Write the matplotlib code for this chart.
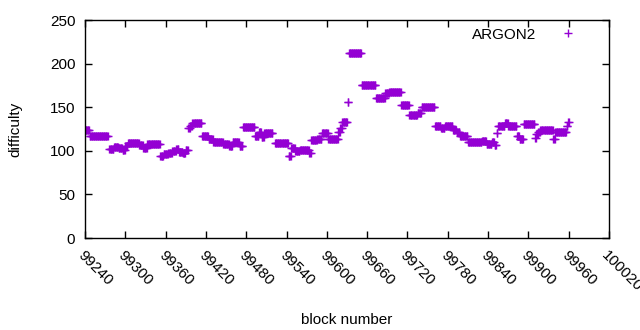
"""
Difficulty per block for the ARGON2 chain (gnuplot-style scatter)
"""

import numpy as np
import matplotlib
matplotlib.use("Agg")
import matplotlib.pyplot as plt

# runs of constant difficulty: [start, end) block and value
run_start = [99240, 99247, 99276, 99283, 99290, 99296, 99300, 99304, 99321, 99327,
             99333, 99352, 99357, 99364, 99370, 99376, 99380, 99386, 99390, 99394,
             99397, 99400, 99414, 99424, 99431, 99446, 99455, 99460, 99470, 99475,
             99493, 99499, 99503, 99507, 99523, 99543, 99547, 99553, 99560, 99574,
             99577, 99586, 99593, 99602, 99617, 99620, 99623, 99631, 99633, 99652,
             99673, 99687, 99693, 99711, 99723, 99735, 99741, 99761, 99770, 99776,
             99788, 99793, 99798, 99810, 99831, 99838, 99846, 99850, 99853, 99855,
             99865, 99870, 99883, 99887, 99893, 99910, 99912, 99915, 99918, 99937,
             99940, 99957, 99959]
run_end = [99247, 99275, 99283, 99290, 99296, 99300, 99304, 99321, 99327, 99333,
           99352, 99357, 99364, 99370, 99376, 99380, 99386, 99390, 99394, 99397,
           99400, 99414, 99424, 99431, 99446, 99455, 99460, 99470, 99475, 99493,
           99499, 99503, 99507, 99520, 99543, 99547, 99553, 99560, 99574, 99577,
           99586, 99593, 99602, 99617, 99620, 99623, 99631, 99633, 99652, 99673,
           99687, 99693, 99711, 99723, 99735, 99741, 99761, 99770, 99776, 99788,
           99793, 99798, 99810, 99831, 99838, 99846, 99850, 99853, 99855, 99865,
           99870, 99883, 99887, 99893, 99910, 99912, 99915, 99918, 99937, 99940,
           99957, 99959, 99961]
run_value = [124, 117, 102, 104, 103, 101, 106, 109, 107, 103,
             108, 94, 96, 97, 100, 102, 99, 97, 101, 126,
             129, 132, 117, 113, 110, 108, 105, 110, 105, 127,
             117, 121, 116, 120, 109, 94, 103, 100, 101, 97,
             112, 113, 120, 113, 121, 126, 133, 156, 212, 176,
             160, 166, 168, 152, 141, 143, 150, 128, 126, 128,
             124, 122, 117, 110, 111, 108, 110, 107, 120, 128,
             132, 128, 117, 113, 131, 115, 119, 121, 124, 114,
             121, 128, 133]

x_ticks = list(range(99240, 100021, 60))
y_ticks = [0, 50, 100, 150, 200, 250]

blocks = np.concatenate([np.arange(s, e) for s, e in zip(run_start, run_end)])
diff = np.concatenate([np.full(e - s, v) for s, e, v in zip(run_start, run_end, run_value)])

plt.rcParams['font.family'] = ['Liberation Sans', 'DejaVu Sans']
plt.rcParams['font.size'] = 11

fig = plt.figure(figsize=(6.4, 3.3), dpi=100)
ax = fig.add_axes([85 / 640, 92 / 330, 524 / 640, 218 / 330])

ax.plot(blocks, diff, linestyle='none', marker='+', ms=5.5, mew=1.0,
        color='#9400d3', label='ARGON2')

ax.set_xlim(99240, 100020)
ax.set_ylim(0, 250)
ax.set_xticks(x_ticks)
ax.set_yticks(y_ticks)
ax.set_xticklabels([str(t) for t in x_ticks], rotation=-45, ha='left', va='top',
                   rotation_mode='anchor')
ax.tick_params(direction='in', length=5, width=1, top=True, right=True, pad=7)
for s in ax.spines.values():
    s.set_linewidth(1)

ax.set_xlabel('block number', labelpad=14)
ax.set_ylabel('difficulty', labelpad=20)

ax.legend(loc='upper right', frameon=False, markerfirst=False, handlelength=2.5,
          borderaxespad=0.1, bbox_to_anchor=(0.972, 1.0))

fig.savefig('out.png', dpi=100)
